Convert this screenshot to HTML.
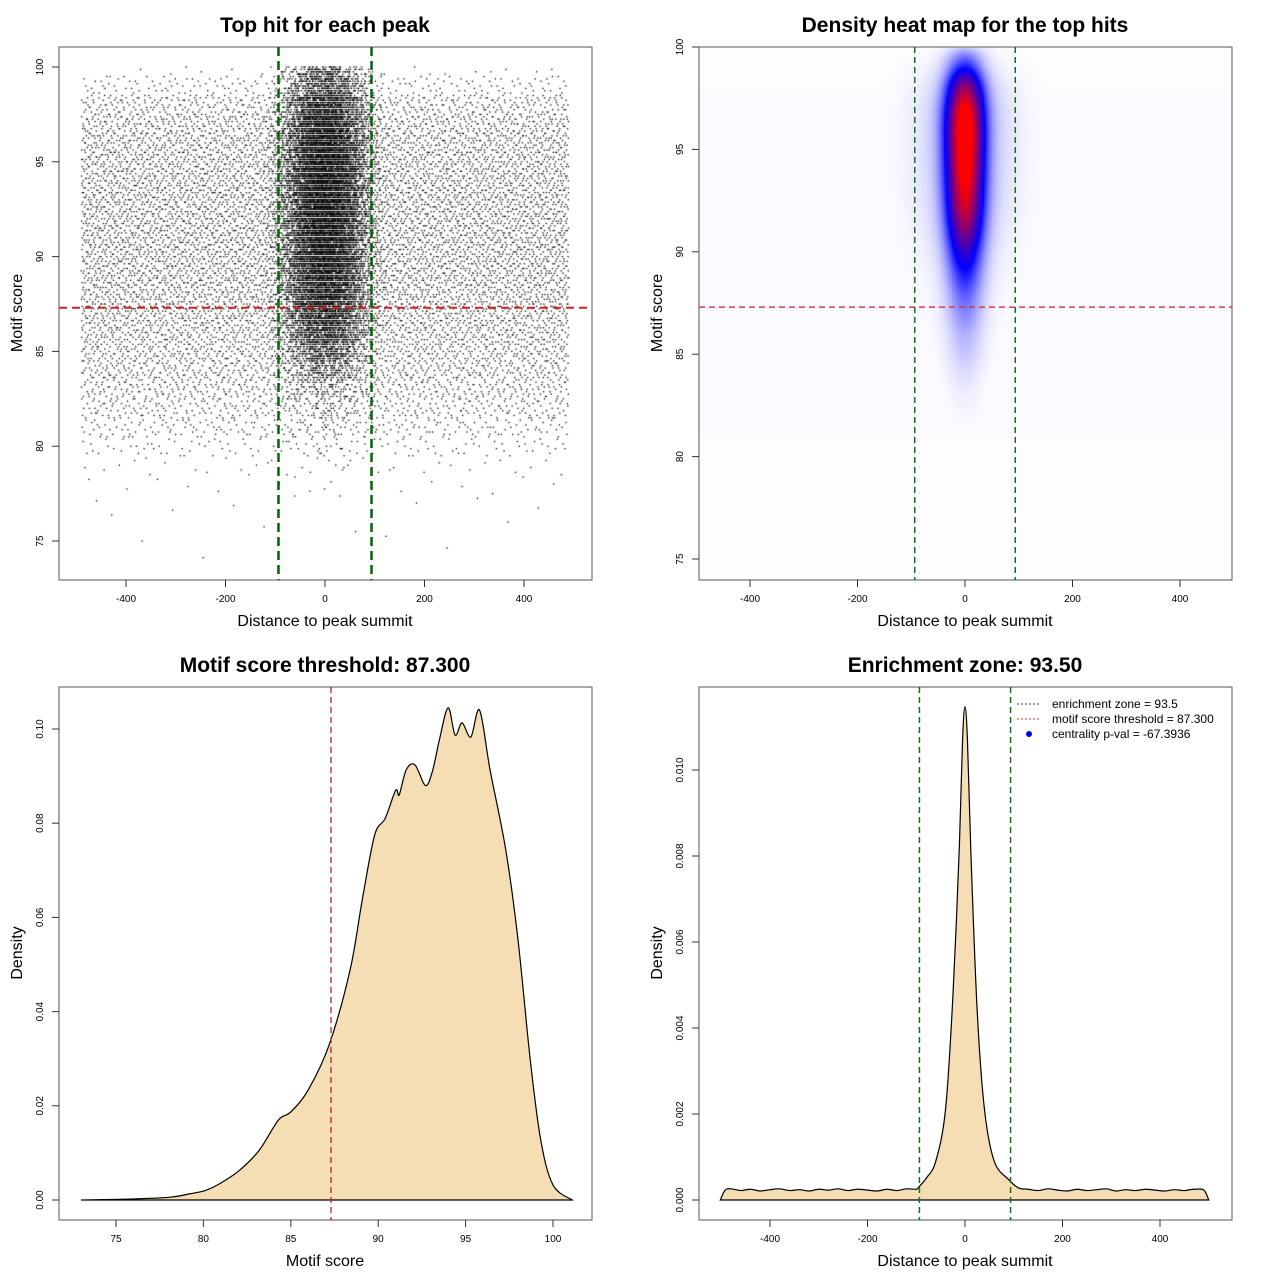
<!DOCTYPE html>
<html><head><meta charset="utf-8"><style>
html,body{margin:0;padding:0;background:#fff;}
#wrap{position:relative;width:1280px;height:1280px;font-family:"Liberation Sans",sans-serif;}
canvas{position:absolute;left:0;top:0;}
svg{position:absolute;left:0;top:0;}
</style></head><body>
<div id="wrap">
<canvas id="cv" width="1280" height="1280"></canvas>
<svg id="sv" width="1280" height="1280" xmlns="http://www.w3.org/2000/svg"></svg>
</div>
<script>
// ---------- data ----------
const scoreLevels = [74,75,76,77,78,79,80,81,82,83,84,85,86,87,88,89,90,91,92,93,94,95,96,97,98,99,100];
const bgCounts    = [1,3,4,8,15,35,120,230,330,420,500,560,620,660,700,720,740,740,740,740,720,700,670,600,450,200,20];
const centerCounts= [0,0,0,0,3,6,12,25,45,90,220,420,650,850,1000,1100,1200,1250,1280,1300,1300,1280,1200,1050,850,500,220];
const heatScores  = [80,81,82,83,84,85,86,87,88,89,90,91,92,93,94,95,96,97,98,99,100];
const heatPeak    = [0,0,0.01,0.02,0.04,0.07,0.1,0.15,0.21,0.3,0.43,0.6,0.75,0.85,0.93,0.98,1,0.9,0.65,0.3,0.06];
const scoreDensX  = [73,75.8,78.1,79.2,80.1,81,82.1,83.2,84.3,85,86,87.2,88.4,89.1,89.8,90.4,91,91.2,91.6,92.1,92.7,93.1,93.5,94,94.4,94.8,95.3,95.8,96.4,97.3,98,98.7,99.3,100,101.1];
const scoreDensY  = [0,0.0002,0.0006,0.0013,0.002,0.0036,0.0064,0.0106,0.017,0.0187,0.0234,0.033,0.049,0.064,0.0775,0.081,0.087,0.086,0.0913,0.0924,0.088,0.091,0.0977,0.1045,0.0987,0.1013,0.0983,0.104,0.0913,0.0743,0.0552,0.0297,0.0127,0.0032,0];
const distDensX   = [-502,-492,-480,-460,-440,-420,-400,-380,-360,-340,-320,-300,-280,-260,-240,-220,-200,-180,-160,-140,-120,-100,-95,-80,-60,-40,-25,-12,-5,0,5,12,25,40,60,90,110,130,150,170,190,210,230,250,270,290,310,330,350,370,390,410,430,450,470,490,500];
const distDensY   = [0,0.00023,0.00026,0.00022,0.00025,0.00021,0.00024,0.00026,0.00022,0.00024,0.00021,0.00025,0.00023,0.00026,0.00022,0.00025,0.00023,0.00021,0.00025,0.00022,0.00026,0.00025,0.0003,0.0005,0.0009,0.0021,0.0047,0.0081,0.0107,0.01147,0.0107,0.0081,0.0044,0.0021,0.0009,0.00047,0.00028,0.00025,0.00022,0.00026,0.00023,0.00021,0.00025,0.00022,0.00024,0.00026,0.00021,0.00024,0.00022,0.00025,0.00023,0.00021,0.00024,0.00022,0.00025,0.00023,0];
const threshold = 87.3, zone = 93.5;

// ---------- helpers ----------
const NS="http://www.w3.org/2000/svg";
const sv=document.getElementById('sv');
function el(tag,attrs,txt){const e=document.createElementNS(NS,tag);for(const k in attrs)e.setAttribute(k,attrs[k]);if(txt!==undefined)e.textContent=txt;sv.appendChild(e);return e;}
function lin(d0,d1,r0,r1){return v=>r0+(v-d0)*(r1-r0)/(d1-d0);}
function interp(xs,ys,x){if(x<=xs[0])return ys[0];for(let i=1;i<xs.length;i++){if(x<=xs[i]){const t=(x-xs[i-1])/(xs[i]-xs[i-1]);return ys[i-1]+t*(ys[i]-ys[i-1]);}}return ys[ys.length-1];}
function halton(i,b){let f=1,r=0;while(i>0){f/=b;r+=f*(i%b);i=Math.floor(i/b);}return r;}
function smoothPath(P){let d='M'+P[0][0]+','+P[0][1];
  for(let i=0;i<P.length-1;i++){const p0=P[Math.max(0,i-1)],p1=P[i],p2=P[i+1],p3=P[Math.min(P.length-1,i+2)];
    const c1=[p1[0]+(p2[0]-p0[0])/6,p1[1]+(p2[1]-p0[1])/6],c2=[p2[0]-(p3[0]-p1[0])/6,p2[1]-(p3[1]-p1[1])/6];
    d+=` C${c1[0]},${c1[1]} ${c2[0]},${c2[1]} ${p2[0]},${p2[1]}`;}
  return d+' Z';}

function frame(L,T,title,xlab,ylab,xticks,xs,yticks,ys,yfmt,pfx){
  const b=el('rect',{x:L,y:T,width:533,height:533,fill:'none',stroke:'#555','stroke-width':1});
  
  const t=el('text',{x:L+266,y:T-15,'text-anchor':'middle','font-size':21,'font-weight':'bold'},title);
  
  const xl=el('text',{x:L+266,y:T+579,'text-anchor':'middle','font-size':16},xlab);
  
  const yl=el('text',{x:0,y:0,'text-anchor':'middle','font-size':16,transform:`translate(${L-37},${T+266}) rotate(-90)`},ylab);
  
  xticks.forEach(v=>{const x=xs(v);
    el('line',{x1:x,x2:x,y1:T+533,y2:T+540,stroke:'#333'});
    const tl=el('text',{x:x,y:T+555,'text-anchor':'middle','font-size':10},v);
    });
  yticks.forEach(v=>{const y=ys(v);
    el('line',{x1:L-7,x2:L,y1:y,y2:y,stroke:'#333'});
    const tl=el('text',{x:0,y:0,'text-anchor':'middle','font-size':10,transform:`translate(${L-16},${y}) rotate(-90)`},yfmt?yfmt(v):v);
    });
}
const cv=document.getElementById('cv');const ctx=cv.getContext('2d');

// ---------- panel 1 scatter ----------
const x1=lin(0,400,325,524), y1=lin(100,75,67,541);
ctx.save();ctx.beginPath();ctx.rect(59,47,533,533);ctx.clip();
ctx.fillStyle='#000';
let idx=1;
function qy(s,h){let yv=s-0.5+h; if(yv>100)yv=100-(yv-100); return Math.round(yv*8)/8;}
scoreLevels.forEach((s,i)=>{
  for(let k=0;k<bgCounts[i];k++){idx++;
    const xv=-490+980*halton(idx,2);
    ctx.fillRect(x1(xv)-0.6,y1(qy(s,halton(idx,3)))-0.6,1.3,1.3);}
  for(let k=0;k<centerCounts[i];k++){idx++;
    const u=halton(idx,2)+halton(idx,5)+halton(idx,7)+halton(idx,11)-2;
    const xv=u*72;
    ctx.fillRect(x1(xv)-0.6,y1(qy(s,halton(idx,3)))-0.6,1.3,1.3);}
});
ctx.restore();
frame(59,47,'Top hit for each peak','Distance to peak summit','Motif score',[-400,-200,0,200,400],x1,[75,80,85,90,95,100],y1,null,'scatter');
el('line',{x1:59,x2:592,y1:y1(threshold),y2:y1(threshold),stroke:'#d62020','stroke-width':2,'stroke-dasharray':'8,5'});
[-zone,zone].forEach(v=>{const g=el('line',{x1:x1(v),x2:x1(v),y1:47,y2:580,stroke:'#006400','stroke-width':2.5,'stroke-dasharray':'9,5'});});

// ---------- panel 2 heatmap ----------
const x2=lin(0,400,965,1180), y2=lin(100,75,47,559);
const sd=23;
for(let py=48;py<580;py+=2){for(let px=700;px<1232;px+=2){
  const xv=(px+1-965)/0.5375, yv=100-(py+1-47)/20.48;
  const pk=interp(heatScores,heatPeak,yv);
  let t=pk*Math.exp(-xv*xv/(2*sd*sd))+0.1*pk*Math.exp(-xv*xv/(2*60*60));
  const bg=(yv>81&&yv<98)?0.006:0.002;
  t=Math.max(t,bg);
  let r,g,b;
  if(t<0.35){const a=t/0.35;r=255*(1-a);g=255*(1-a);b=255;}
  else{const a=Math.min(1,(t-0.35)/0.6);r=255*a;g=0;b=255*(1-a);}
  ctx.fillStyle=`rgb(${r|0},${g|0},${b|0})`;ctx.fillRect(px,py,2,2);
}}
frame(699,47,'Density heat map for the top hits','Distance to peak summit','Motif score',[-400,-200,0,200,400],x2,[75,80,85,90,95,100],y2,null,'heatmap');
el('line',{x1:699,x2:1232,y1:y2(threshold),y2:y2(threshold),stroke:'#d04040','stroke-width':1.5,'stroke-dasharray':'6,4'});
[-zone,zone].forEach(v=>{const g=el('line',{x1:x2(v),x2:x2(v),y1:47,y2:580,stroke:'#1a6b1a','stroke-width':1.5,'stroke-dasharray':'6,4'});});

// ---------- panel 3 score density ----------
const x3=lin(75,100,116,553), y3=lin(0,0.1,1200,729);
const a3=el('path',{d:smoothPath(scoreDensX.map((v,i)=>[x3(v),y3(scoreDensY[i])])),fill:'#f5deb3',stroke:'#000','stroke-width':1.2});
frame(59,687,'Motif score threshold: 87.300','Motif score','Density',[75,80,85,90,95,100],x3,[0,0.02,0.04,0.06,0.08,0.1],y3,v=>v.toFixed(2),'score-density');
el('line',{x1:x3(threshold),x2:x3(threshold),y1:687,y2:1220,stroke:'#b22222','stroke-width':1.3,'stroke-dasharray':'6,4'});

// ---------- panel 4 distance density ----------
const x4=lin(0,400,965,1160), y4=lin(0,0.01,1200,770);
const a4=el('path',{d:smoothPath(distDensX.map((v,i)=>[x4(v),y4(distDensY[i])])),fill:'#f5deb3',stroke:'#000','stroke-width':1.2});
frame(699,687,'Enrichment zone: 93.50','Distance to peak summit','Density',[-400,-200,0,200,400],x4,[0,0.002,0.004,0.006,0.008,0.01],y4,v=>v.toFixed(3),'distance-density');
[-zone,zone].forEach(v=>{const g=el('line',{x1:x4(v),x2:x4(v),y1:687,y2:1220,stroke:'#1a6b1a','stroke-width':1.5,'stroke-dasharray':'6,4'});});
// legend
el('line',{x1:1017,x2:1041,y1:704,y2:704,stroke:'#333','stroke-dasharray':'2,2'});
el('text',{x:1052,y:708,'font-size':12},'enrichment zone = 93.5');
el('line',{x1:1017,x2:1041,y1:719,y2:719,stroke:'#e03030','stroke-dasharray':'2,2'});
el('text',{x:1052,y:723,'font-size':12},'motif score threshold = 87.300');
el('circle',{cx:1029,cy:734,r:3,fill:'#0000ff'});
el('text',{x:1052,y:738,'font-size':12},'centrality p-val = -67.3936');
</script>
</body></html>
